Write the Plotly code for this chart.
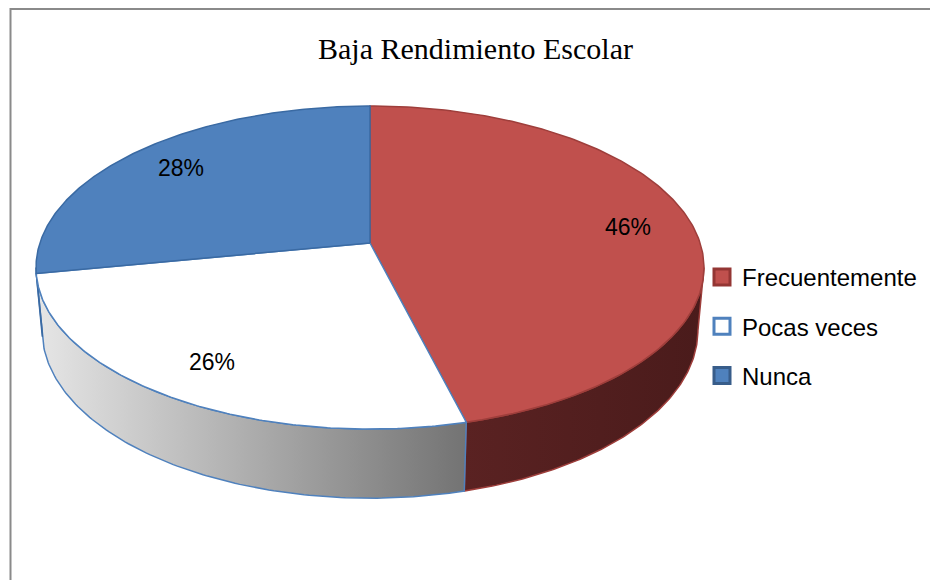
import numpy as np
import plotly.graph_objects as go

# data
labels = ["Frecuentemente", "Pocas veces", "Nunca"]
percents = [46, 26, 28]

top_colors = ["#C0504D", "#FFFFFF", "#4F81BD"]
edge_colors = ["#9E3E3B", "#4F81BD", "#3A6AA3"]
side_scales = [
    [[0, "#5a2222"], [1, "#4a1b1b"]],
    [[0, "#e6e6e6"], [1, "#737373"]],
    [[0, "#2f5480"], [1, "#2f5480"]],
]
key_borders = ["#943634", "#4F81BD", "#385D8A"]

W, H = 930, 580

# simple perspective camera for the tilted disc (pixel space)
CX, CY = 370, 243
FOCAL, DIST = 1908.0, 5.78
TILT = np.radians(28.56)
THICK = 0.218


def project(theta, r=1.0, z=0.0):
    x = r * np.sin(theta)
    y = r * np.cos(theta)
    up = z * np.cos(TILT) + y * np.sin(TILT)
    dep = DIST + y * np.cos(TILT) - z * np.sin(TILT)
    return CX + FOCAL * x / dep, CY - FOCAL * up / dep


fractions = np.array(percents) / sum(percents)
ends = np.cumsum(fractions) * 2 * np.pi
starts = ends - fractions * 2 * np.pi

# part of the outer wall that faces the viewer
a_vis = np.arccos(-np.cos(TILT) / DIST)
b_vis = 2 * np.pi - a_vis

fig = go.Figure()

# side walls first
for i in range(len(labels)):
    a, b = max(starts[i], a_vis), min(ends[i], b_vis)
    if b <= a:
        continue
    t = np.linspace(a, b, 120)
    xt, yt = project(t)
    xb, yb = project(t[::-1], z=-THICK)
    fig.add_trace(go.Scatter(
        x=np.concatenate([xt, xb, xt[:1]]),
        y=np.concatenate([yt, yb, yt[:1]]),
        mode="lines", fill="toself",
        fillgradient=dict(type="horizontal", colorscale=side_scales[i]),
        line=dict(color=edge_colors[i], width=1.5),
        hoverinfo="skip", showlegend=False,
    ))

# top faces
for i in range(len(labels)):
    t = np.linspace(starts[i], ends[i], 200)
    xs, ys = project(t)
    x0, y0 = project(0.0, r=0.0)
    fig.add_trace(go.Scatter(
        x=np.concatenate([[x0], xs, [x0]]),
        y=np.concatenate([[y0], ys, [y0]]),
        mode="lines", fill="toself", fillcolor=top_colors[i],
        line=dict(color=edge_colors[i], width=1.5),
        name=labels[i], hoverinfo="skip", showlegend=False,
    ))

# legend keys
for i in range(len(labels)):
    fig.add_trace(go.Scatter(
        x=[None], y=[None], mode="markers", name=labels[i],
        legendgroup=labels[i],
        marker=dict(symbol="square", size=16, color=top_colors[i],
                    line=dict(color=key_borders[i], width=3)),
    ))

# percentage labels
for i in range(len(labels)):
    mid = (starts[i] + ends[i]) / 2
    lx, ly = project(mid, r=0.8)
    fig.add_annotation(x=lx, y=ly, text=f"{percents[i]}%", showarrow=False,
                       font=dict(family="Liberation Sans", size=23, color="black"))

fig.add_shape(type="rect", x0=10.5, y0=9, x1=W + 10, y1=H + 10,
              line=dict(color="#8a8a8a", width=2))

fig.update_layout(
    width=W, height=H,
    margin=dict(l=0, r=0, t=0, b=0, autoexpand=False),
    paper_bgcolor="white", plot_bgcolor="white",
    title=dict(text="Baja Rendimiento Escolar", x=475.5 / W, y=1 - 48 / H,
               xanchor="center", yanchor="middle",
               font=dict(family="Liberation Serif", size=30, color="black")),
    xaxis=dict(range=[0, W], visible=False, fixedrange=True),
    yaxis=dict(range=[H, 0], visible=False, fixedrange=True),
    legend=dict(x=702 / W, y=1 - 255 / H, xanchor="left", yanchor="top",
                font=dict(family="Liberation Sans", size=24, color="black"),
                bgcolor="rgba(0,0,0,0)", tracegroupgap=15),
    showlegend=True,
)

fig.write_html("out.html", config={"displayModeBar": False},
               post_script="document.body.style.margin='0';")
